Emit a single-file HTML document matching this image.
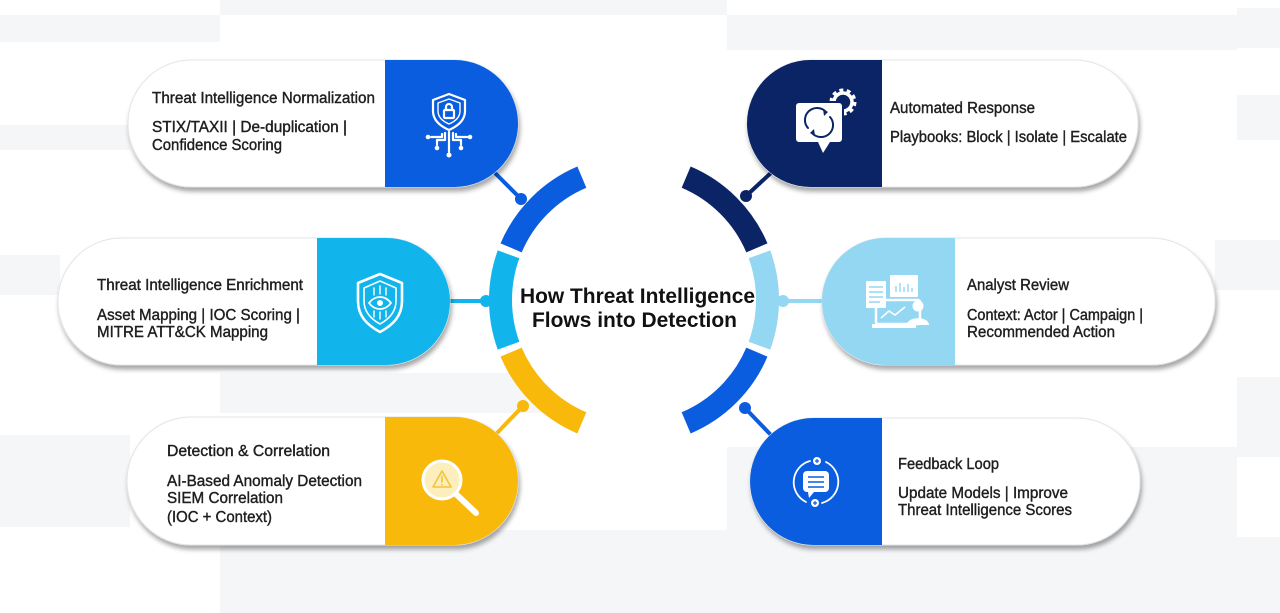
<!DOCTYPE html>
<html>
<head>
<meta charset="utf-8">
<style>
html,body{margin:0;padding:0;background:#fff;}
svg{display:block;}
.t{font-family:"Liberation Sans",Arial,sans-serif;font-size:15.3px;fill:#1e1e1e;stroke:#1e1e1e;stroke-width:0.4px;}
.c{font-family:"Liberation Sans",Arial,sans-serif;font-size:21px;font-weight:bold;fill:#111;}
</style>
</head>
<body>
<svg width="1280" height="613" viewBox="0 0 1280 613" xmlns="http://www.w3.org/2000/svg">
<defs>
<filter id="sh" x="-10%" y="-20%" width="120%" height="150%">
<feDropShadow dx="1.5" dy="4" stdDeviation="2.5" flood-color="#000" flood-opacity="0.35"/>
</filter>
</defs>
<!-- background bands -->
<g fill="#f5f6f8">
<rect x="0" y="15" width="220" height="27"/>
<rect x="220" y="0" width="507" height="15"/>
<rect x="727" y="15" width="510" height="35"/>
<rect x="1237" y="8" width="43" height="40"/>
<rect x="0" y="125" width="130" height="25"/>
<rect x="1237" y="95" width="43" height="45"/>
<rect x="0" y="255" width="60" height="40"/>
<rect x="1215" y="240" width="65" height="50"/>
<rect x="220" y="373" width="507" height="40"/>
<rect x="0" y="435" width="130" height="92"/>
<rect x="727" y="447" width="510" height="90"/>
<rect x="1237" y="377" width="43" height="80"/>
<rect x="220" y="530" width="507" height="83"/>
<rect x="1237" y="537" width="43" height="76"/>
<rect x="727" y="537" width="510" height="76"/>
</g>
<!-- center disc -->
<circle cx="634" cy="300" r="130" fill="#fff"/>

<!-- connectors -->
<g stroke-width="4" stroke-linecap="round">
<line x1="521" y1="199" x2="496" y2="174" stroke="#0b5ddf"/>
<line x1="484" y1="301" x2="448" y2="301" stroke="#12b4ec"/>
<line x1="523" y1="406" x2="498" y2="432" stroke="#f8b90a"/>
<line x1="746" y1="196" x2="773" y2="171" stroke="#0b2466"/>
<line x1="786" y1="301" x2="824" y2="301" stroke="#93d7f3"/>
<line x1="745" y1="408" x2="770" y2="434" stroke="#0b5ddf"/>
</g>
<circle cx="521" cy="199" r="6" fill="#0b5ddf"/>
<circle cx="486" cy="301" r="6" fill="#12b4ec"/>
<circle cx="523" cy="406" r="6" fill="#f8b90a"/>
<circle cx="746" cy="196" r="6" fill="#0b2466"/>
<circle cx="783" cy="301" r="6" fill="#93d7f3"/>
<circle cx="745" cy="408" r="6" fill="#0b5ddf"/>

<!-- ring arcs -->
<path d="M577.35,166.53 A145,145 0 0 0 500.53,243.35 L521.70,252.33 A122,122 0 0 1 586.33,187.70 Z" fill="#0b5ddf"/>
<path d="M497.74,250.41 A145,145 0 0 0 497.74,349.59 L519.36,341.72 A122,122 0 0 1 519.36,258.28 Z" fill="#12b4ec"/>
<path d="M500.53,356.65 A145,145 0 0 0 577.35,433.47 L586.33,412.30 A122,122 0 0 1 521.70,347.67 Z" fill="#f8b90a"/>
<path d="M690.65,166.53 A145,145 0 0 1 767.47,243.35 L746.30,252.33 A122,122 0 0 0 681.67,187.70 Z" fill="#0b2466"/>
<path d="M770.26,250.41 A145,145 0 0 1 770.26,349.59 L748.64,341.72 A122,122 0 0 0 748.64,258.28 Z" fill="#93d7f3"/>
<path d="M767.47,356.65 A145,145 0 0 1 690.65,433.47 L681.67,412.30 A122,122 0 0 0 746.30,347.67 Z" fill="#0b5ddf"/>

<text class="c" x="520" y="303" textLength="235" lengthAdjust="spacingAndGlyphs">How Threat Intelligence</text>
<text class="c" x="532" y="327" textLength="205" lengthAdjust="spacingAndGlyphs">Flows into Detection</text>

<!-- Card 1 -->
<g filter="url(#sh)">
<rect x="128" y="60" width="390" height="127" rx="63.5" fill="#fff" stroke="#e2e4e8" stroke-width="1"/>
</g>
<path d="M385,60 H454.5 A63.5,63.5 0 0 1 454.5,187 H385 Z" fill="#0b5ddf"/>
<text class="t" x="152" y="103" textLength="223" lengthAdjust="spacingAndGlyphs">Threat Intelligence Normalization</text>
<text class="t" x="152" y="132" textLength="195" lengthAdjust="spacingAndGlyphs">STIX/TAXII | De-duplication |</text>
<text class="t" x="152" y="150" textLength="130" lengthAdjust="spacingAndGlyphs">Confidence Scoring</text>
<g fill="none" stroke="#fff" stroke-width="2.2" stroke-linecap="round" stroke-linejoin="round">
<path d="M449,94 L465,100 V111 C465,120 458,126 449,130 C440,126 433,120 433,111 V100 Z"/>
<path d="M449,99 L460,103 V111 C460,117 456,121 449,124 C442,121 438,117 438,111 V103 Z" stroke-width="1.4"/>
<rect x="444" y="110" width="10" height="8" rx="1"/>
<path d="M446,110 V107 A3,3 0 0 1 452,107 V110"/>
<path d="M449,132 V152"/>
<path d="M445,133 V140 H437 V145"/>
<path d="M453,133 V140 H461 V145"/>
<path d="M442,134 V137 H431"/>
<path d="M456,134 V137 H467"/>
</g>
<g fill="#fff">
<circle cx="449" cy="155" r="2.5"/><circle cx="437" cy="148" r="2.3"/><circle cx="461" cy="148" r="2.3"/>
<circle cx="428" cy="137" r="2.3"/><circle cx="470" cy="137" r="2.3"/>
</g>

<!-- Card 2 -->
<g filter="url(#sh)">
<rect x="58" y="238" width="392" height="127" rx="63.5" fill="#fff" stroke="#e2e4e8" stroke-width="1"/>
</g>
<path d="M317,238 H386.5 A63.5,63.5 0 0 1 386.5,365 H317 Z" fill="#12b4ec"/>
<text class="t" x="97" y="290" textLength="206" lengthAdjust="spacingAndGlyphs">Threat Intelligence Enrichment</text>
<text class="t" x="97" y="320" textLength="203" lengthAdjust="spacingAndGlyphs">Asset Mapping | IOC Scoring |</text>
<text class="t" x="97" y="337" textLength="171" lengthAdjust="spacingAndGlyphs">MITRE ATT&amp;CK Mapping</text>
<g fill="none" stroke="#fff" stroke-width="2.6" stroke-linecap="round" stroke-linejoin="round">
<path d="M380,274 L402,283 V301 C402,316 393,325 380,332 C367,325 358,316 358,301 V283 Z"/>
<path d="M380,281 L396,288 V301 C396,312 389,319 380,324 C371,319 364,312 364,301 V288 Z" stroke-width="1.6"/>
<path d="M369,303 C375,295 385,295 391,303 C385,311 375,311 369,303 Z" stroke-width="1.8"/>
<path d="M374,295 V288 M380,294 V286 M386,295 V288 M374,311 V317 M380,312 V319 M386,311 V317" stroke-width="1.4"/>
</g>
<circle cx="380" cy="303" r="3" fill="#fff"/>

<!-- Card 3 -->
<g filter="url(#sh)">
<rect x="127" y="417" width="391" height="128" rx="64" fill="#fff" stroke="#e2e4e8" stroke-width="1"/>
</g>
<path d="M385,417 H454 A64,64 0 0 1 454,545 H385 Z" fill="#f8b90a"/>
<text class="t" x="167" y="456" textLength="163" lengthAdjust="spacingAndGlyphs">Detection &amp; Correlation</text>
<text class="t" x="167" y="486" textLength="195" lengthAdjust="spacingAndGlyphs">AI-Based Anomaly Detection</text>
<text class="t" x="167" y="503" textLength="116" lengthAdjust="spacingAndGlyphs">SIEM Correlation</text>
<text class="t" x="167" y="522" textLength="105" lengthAdjust="spacingAndGlyphs">(IOC + Context)</text>
<line x1="457" y1="495" x2="476" y2="513" stroke="#fff" stroke-width="6" stroke-linecap="round"/>
<circle cx="442" cy="480" r="19" fill="#fdeebd" stroke="#fff" stroke-width="3"/>
<path d="M442,471 L451,487 H433 Z" fill="none" stroke="#f3c338" stroke-width="1.6" stroke-linejoin="round"/>
<path d="M442,476 V482 M442,484.5 V485" stroke="#f3c338" stroke-width="1.6" stroke-linecap="round"/>

<!-- Card 4 -->
<g filter="url(#sh)">
<rect x="747" y="60" width="391" height="127" rx="63.5" fill="#fff" stroke="#e2e4e8" stroke-width="1"/>
</g>
<path d="M882,60 H810.5 A63.5,63.5 0 0 0 810.5,187 H882 Z" fill="#0b2466"/>
<text class="t" x="890" y="113" textLength="145" lengthAdjust="spacingAndGlyphs">Automated Response</text>
<text class="t" x="890" y="142" textLength="237" lengthAdjust="spacingAndGlyphs">Playbooks: Block | Isolate | Escalate</text>
<circle cx="843" cy="102" r="9" fill="none" stroke="#fff" stroke-width="3.5"/>
<circle cx="843" cy="102" r="12" fill="none" stroke="#fff" stroke-width="3" stroke-dasharray="4 3.5"/>
<rect x="795" y="102" width="48" height="41" rx="4" fill="#fff" stroke="#0b2466" stroke-width="2"/>
<path d="M818,142 H830 L823,153 Z" fill="#fff"/>
<g fill="none" stroke="#0b2466" stroke-width="2" stroke-linecap="round">
<path d="M826,112 A11,11 0 0 0 808,128"/>
<path d="M812,133 A11,11 0 0 0 830,117"/>
</g>
<path d="M823,109 L828,112 L824,116 Z M815,136 L810,133 L814,129 Z" fill="#0b2466"/>

<!-- Card 5 -->
<g filter="url(#sh)">
<rect x="822" y="238" width="393" height="127" rx="63.5" fill="#fff" stroke="#e2e4e8" stroke-width="1"/>
</g>
<path d="M955,238 H885.5 A63.5,63.5 0 0 0 885.5,365 H955 Z" fill="#93d7f3"/>
<text class="t" x="967" y="290" textLength="102" lengthAdjust="spacingAndGlyphs">Analyst Review</text>
<text class="t" x="967" y="320" textLength="176" lengthAdjust="spacingAndGlyphs">Context: Actor | Campaign |</text>
<text class="t" x="967" y="337" textLength="148" lengthAdjust="spacingAndGlyphs">Recommended Action</text>
<g fill="#fff">
<rect x="866" y="281" width="20" height="27" rx="1"/>
<rect x="890" y="275" width="28" height="22" rx="1"/>
<rect x="876" y="300" width="44" height="24" rx="2" fill="none" stroke="#fff" stroke-width="2.5"/>
<rect x="872" y="324" width="44" height="4"/>
<circle cx="918" cy="306" r="5.5"/>
<path d="M907,325 C907,316 929,316 929,325 Z"/>
</g>
<g stroke="#93d7f3" stroke-width="1.4">
<path d="M869,287 H883 M869,292 H883 M869,297 H883 M869,302 H880"/>
<path d="M896,292 V286 M900,292 V283 M904,292 V287 M908,292 V284 M912,292 V288"/>
</g>
<path d="M881,318 L889,311 L895,315 L905,307" fill="none" stroke="#fff" stroke-width="1.6"/>

<!-- Card 6 -->
<g filter="url(#sh)">
<rect x="750" y="418" width="390" height="127" rx="63.5" fill="#fff" stroke="#e2e4e8" stroke-width="1"/>
</g>
<path d="M882,418 H813.5 A63.5,63.5 0 0 0 813.5,545 H882 Z" fill="#0b5ddf"/>
<text class="t" x="898" y="469" textLength="101" lengthAdjust="spacingAndGlyphs">Feedback Loop</text>
<text class="t" x="898" y="498" textLength="170" lengthAdjust="spacingAndGlyphs">Update Models | Improve</text>
<text class="t" x="898" y="515" textLength="174" lengthAdjust="spacingAndGlyphs">Threat Intelligence Scores</text>
<g fill="none" stroke="#fff" stroke-width="1.8" stroke-linecap="round">
<path d="M810,461 A22,22 0 0 0 806,502"/>
<path d="M822,503 A22,22 0 0 0 826,462"/>
</g>
<rect x="803" y="471" width="26" height="21" rx="4" fill="#fff"/>
<path d="M808,492 H814 L809,498 Z" fill="#fff"/>
<path d="M808,477 H824 M808,482 H824 M808,487 H824" stroke="#0b5ddf" stroke-width="1.6"/>
<circle cx="817" cy="461" r="4" fill="#fff"/>
<circle cx="815" cy="503" r="4" fill="#fff"/>
<path d="M815,461 H819 M817,459 V463 M813,503 H817 M815,501 V505" stroke="#0b5ddf" stroke-width="1.2"/>
</svg>
</body>
</html>
